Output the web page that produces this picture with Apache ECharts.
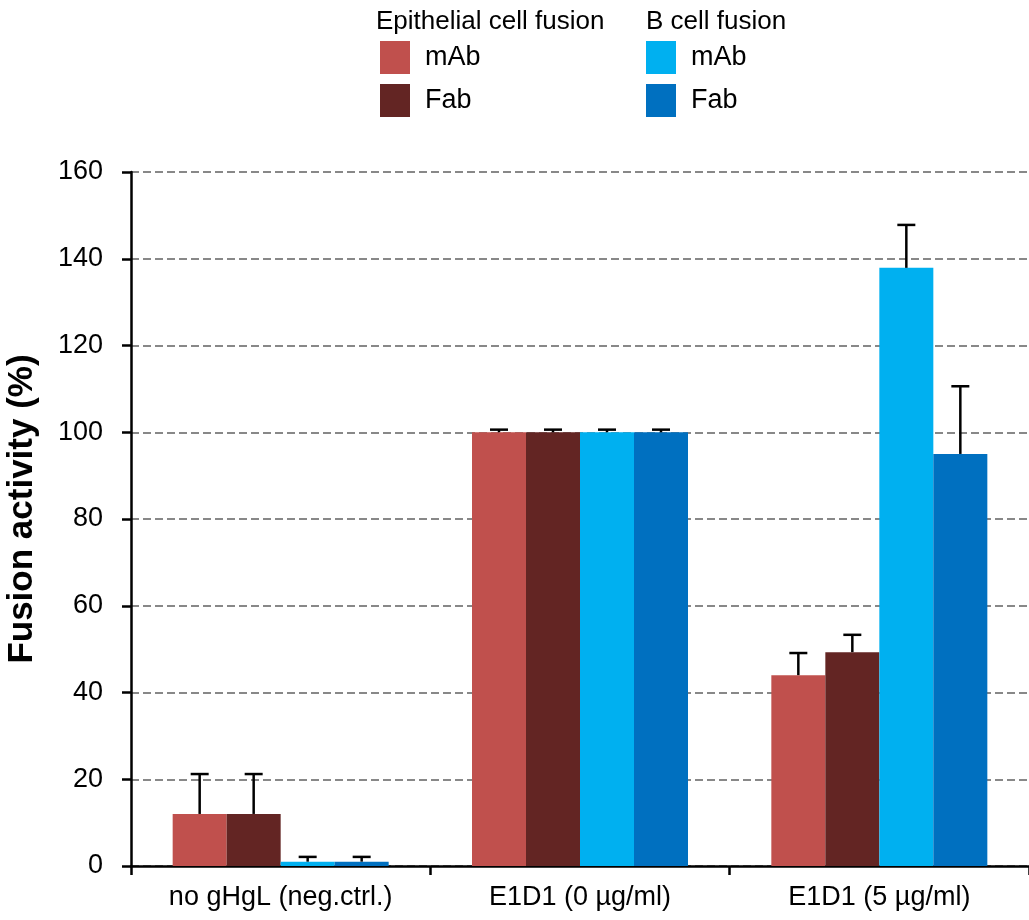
<!DOCTYPE html>
<html>
<head>
<meta charset="utf-8">
<script src="https://cdn.jsdelivr.net/npm/echarts@6/dist/echarts.min.js"></script>
<style>
  html, body { margin: 0; padding: 0; background: #fff; }
  #chart { width: 1029px; height: 920px; }
</style>
</head>
<body>
<div id="chart"></div>
<script>
const categories = ["no gHgL (neg.ctrl.)", "E1D1 (0 µg/ml)", "E1D1 (5 µg/ml)"];
const seriesNames = ["Epithelial mAb", "Epithelial Fab", "B mAb", "B Fab"];
const seriesColors = ["#C0504D", "#632523", "#00B0F0", "#0070C0"];
const epiMab = [12, 100, 44];
const epiFab = [12, 100, 49.3];
const bMab = [1, 100, 137.9];
const bFab = [1, 100, 95];
// top of each error bar (value + SD)
const epiMabErr = [21.2, 100.6, 49.1];
const epiFabErr = [21.2, 100.6, 53.3];
const bMabErr = [2.1, 100.6, 147.8];
const bFabErr = [2.1, 100.6, 110.6];
const yTicks = { min: 0, max: 160, interval: 20 };

const values = [epiMab, epiFab, bMab, bFab];
const errors = [epiMabErr, epiFabErr, bMabErr, bFabErr];
const BAR_W = 54;

const font = "'Liberation Sans', Arial, sans-serif";

const barSeries = seriesNames.map((name, i) => ({
  name: name,
  type: "bar",
  data: values[i],
  barWidth: BAR_W,
  barGap: "0%",
  itemStyle: { color: seriesColors[i] },
  z: 3,
}));

const errSeries = seriesNames.map((name, i) => ({
  type: "custom",
  name: name + " err",
  data: values[i].map((v, k) => [k, v, errors[i][k]]),
  z: 4,
  silent: true,
  renderItem: (params, api) => {
    const k = api.value(0);
    const base = api.coord([k, api.value(1)]);
    const top = api.coord([k, api.value(2)]);
    const x = base[0] + (i - 1.5) * BAR_W;
    const style = { stroke: "#000", lineWidth: 2.5 };
    return {
      type: "group",
      children: [
        { type: "line", shape: { x1: x, y1: base[1], x2: x, y2: top[1] }, style: style },
        { type: "line", shape: { x1: x - 9, y1: top[1], x2: x + 9, y2: top[1] }, style: style },
      ],
    };
  },
}));

const legendBase = {
  orient: "vertical",
  padding: 0,
  itemWidth: 30,
  itemHeight: 33,
  itemGap: 10,
  icon: "rect",
  selectedMode: false,
  formatter: (name) => name.split(" ")[1],
  textStyle: { fontFamily: font, fontSize: 27, color: "#000", padding: [2, 0, 0, 10] },
};

const chart = echarts.init(document.getElementById("chart"));
chart.setOption({
  animation: false,
  textStyle: { fontFamily: font },
  title: [
    { text: "Epithelial cell fusion", left: 376, top: 9, padding: 0,
      textStyle: { fontFamily: font, fontSize: 26, fontWeight: "normal", color: "#000" } },
    { text: "B cell fusion", left: 646, top: 9, padding: 0,
      textStyle: { fontFamily: font, fontSize: 26, fontWeight: "normal", color: "#000" } },
  ],
  legend: [
    Object.assign({}, legendBase, { left: 380, top: 41, data: seriesNames.slice(0, 2) }),
    Object.assign({}, legendBase, { left: 646, top: 41, data: seriesNames.slice(2, 4) }),
  ],
  grid: { left: 131, right: 0, top: 172, bottom: 54, outerBoundsMode: "none" },
  xAxis: {
    type: "category",
    data: categories,
    axisLine: { lineStyle: { color: "#000", width: 2.5 } },
    axisTick: { show: true, interval: 0, length: 9, lineStyle: { color: "#000", width: 2.5 } },
    axisLabel: { color: "#000", fontSize: 27, margin: 18, interval: 0, hideOverlap: false, fontFamily: font },
  },
  yAxis: {
    type: "value",
    min: yTicks.min,
    max: yTicks.max,
    interval: yTicks.interval,
    name: "Fusion activity (%)",
    nameLocation: "middle",
    nameGap: 91,
    nameTextStyle: { color: "#000", fontSize: 35, fontWeight: "bold", fontFamily: font, padding: [0, 0, 0, 20] },
    axisLine: { show: true, lineStyle: { color: "#000", width: 2.5 } },
    axisTick: { show: true, length: 9, lineStyle: { color: "#000", width: 2.5 } },
    axisLabel: { color: "#000", fontSize: 27, margin: 28, fontFamily: font },
    splitLine: { lineStyle: { color: "#888", width: 2, type: [8, 4] } },
  },
  series: barSeries.concat(errSeries),
});
</script>
</body>
</html>
